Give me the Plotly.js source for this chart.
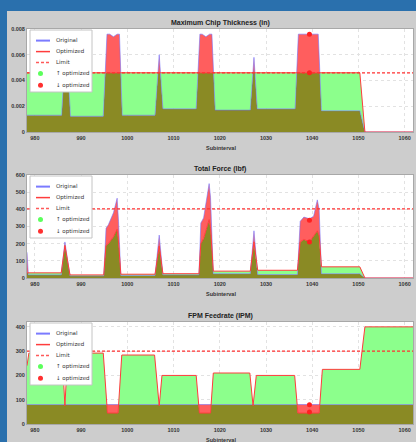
<!DOCTYPE html>
<html>
<head>
<meta charset="utf-8">
<script src="https://cdn.plot.ly/plotly-3.0.1.min.js"></script>
<style>html,body{margin:0;padding:0;background:#2a70ad;}#chart{width:416px;height:442px;}</style>
</head>
<body>
<div id="chart"></div>
<script>
// ---------- DATA ----------
const titles = ["Maximum Chip Thickness (in)", "Total Force (lbf)", "FPM Feedrate (IPM)"];
const xLabel = "Subinterval";
const legendLabels = ["Original", "Optimized", "Limit", "\u2191 optimized", "\u2193 optimized"];

// Plot 1: maximum chip thickness
const chipX = [978.3, 985.8, 986.3, 987.2, 987.7, 994.8, 995.6, 996.2, 997.0, 997.8, 998.3, 998.9, 1006.0, 1006.9, 1007.7, 1014.9, 1015.7, 1016.2, 1017.0, 1017.8, 1018.3, 1019.0, 1026.6, 1027.4, 1028.1, 1036.3, 1037.0, 1038.0, 1039.4, 1040.5, 1041.3, 1042.0, 1050.3, 1051.4, 1061.8];
const chipOrig = [0.0013, 0.0013, 0.0046, 0.0046, 0.00122, 0.00122, 0.0076, 0.0076, 0.0074, 0.0076, 0.0076, 0.0013, 0.0013, 0.0060, 0.0018, 0.0018, 0.0076, 0.0076, 0.0074, 0.0076, 0.0076, 0.0017, 0.0017, 0.0058, 0.0018, 0.0018, 0.0076, 0.0076, 0.0076, 0.0076, 0.0076, 0.00165, 0.00165, 0, 0];
const chipOpt = [0.0046, 0.0046, 0.0046, 0.0046, 0.0046, 0.0046, 0.0046, 0.0046, 0.0046, 0.0046, 0.0046, 0.0046, 0.0046, 0.0046, 0.0046, 0.0046, 0.0046, 0.0046, 0.0046, 0.0046, 0.0046, 0.0046, 0.0046, 0.0046, 0.0046, 0.0046, 0.0046, 0.0046, 0.0046, 0.0046, 0.0046, 0.0046, 0.0046, 0, 0];
const chipLimit = 0.0046;
const chipMarks = [0.0076, 0.0046];

// Plot 2: total force
const forceX = [978.3, 978.6, 985.7, 986.5, 987.6, 994.9, 995.4, 995.9, 997.0, 997.8, 998.1, 998.6, 1006.0, 1006.9, 1007.7, 1015.5, 1015.9, 1016.5, 1017.7, 1018.0, 1018.6, 1026.6, 1027.4, 1028.2, 1036.8, 1037.4, 1038.2, 1039.4, 1040.3, 1041.1, 1041.5, 1042.0, 1050.3, 1051.4, 1061.8];
const forceOrig = [150, 18, 18, 210, 12, 12, 290, 310, 380, 465, 330, 15, 15, 250, 18, 18, 320, 350, 550, 470, 25, 25, 275, 20, 20, 330, 355, 345, 360, 455, 400, 25, 25, 0, 0];
const forceOpt = [30, 30, 30, 190, 18, 18, 190, 200, 240, 285, 210, 22, 22, 185, 25, 25, 200, 230, 340, 290, 40, 40, 210, 45, 45, 210, 225, 210, 245, 275, 245, 65, 65, 0, 0];
const forceLimit = 403;
const forceMarks = [337, 210];

// Plot 3: feedrate
const feedX = [978.3, 978.7, 985.9, 986.5, 987.1, 994.8, 995.7, 998.0, 998.8, 1005.9, 1006.9, 1007.5, 1014.9, 1015.6, 1018.0, 1018.6, 1026.5, 1027.2, 1027.9, 1036.2, 1036.9, 1041.5, 1042.2, 1050.3, 1051.4, 1061.8];
const feedOrig = [80, 80, 80, 80, 80, 80, 80, 80, 80, 80, 80, 80, 80, 80, 80, 80, 80, 80, 80, 80, 80, 80, 80, 80, 80, 80];
const feedOpt = [240, 292, 292, 75, 292, 292, 45, 45, 284, 284, 75, 200, 200, 45, 45, 210, 210, 75, 200, 200, 45, 45, 225, 225, 400, 400];
const feedLimit = 300;
const feedMarks = [79, 49];

const markX = 1039.4;

// ---------- STYLE ----------
const W = 416, H = 442;
const px = v => v / W;
const py = v => 1 - v / H;
const OLIVE = '#8a8a24', REDF = '#ff5e5e', GREENF = '#8cff8c';
const BLUE = '#6a6aff', REDL = '#ff3c3c';
const FONT = 'Liberation Sans, Arial, sans-serif';
const LFONT = 'DejaVu Sans, Liberation Sans, sans-serif';
const xRange = [978.3, 1061.8];

const panels = [
  {x: chipX, a: chipOrig, b: chipOpt, lim: chipLimit, marks: chipMarks, top: 29, bot: 132, range: [0, 0.008], dtick: 0.002},
  {x: forceX, a: forceOrig, b: forceOpt, lim: forceLimit, marks: forceMarks, top: 175, bot: 278, range: [0, 600], dtick: 100},
  {x: feedX, a: feedOrig, b: feedOpt, lim: feedLimit, marks: feedMarks, top: 322, bot: 424, range: [0, 420], dtick: 100}
];

function withCross(x, a, b) {
  const X = [], A = [], B = [];
  for (let i = 0; i < x.length; i++) {
    X.push(x[i]); A.push(a[i]); B.push(b[i]);
    if (i < x.length - 1) {
      const d0 = a[i] - b[i], d1 = a[i + 1] - b[i + 1];
      if (d0 * d1 < 0) {
        const t = d0 / (d0 - d1);
        const xc = x[i] + t * (x[i + 1] - x[i]);
        const yc = a[i] + t * (a[i + 1] - a[i]);
        X.push(xc); A.push(yc); B.push(yc);
      }
    }
  }
  return {X, A, B};
}

const traces = [];
const layout = {
  width: W, height: H,
  margin: {l: 0, r: 0, t: 0, b: 0},
  paper_bgcolor: '#cdcdcd',
  plot_bgcolor: '#ffffff',
  showlegend: false,
  font: {family: FONT, color: '#333'},
  shapes: [], annotations: []
};

// blue frame around the grey panel
layout.shapes.push({type: 'rect', xref: 'paper', yref: 'paper', x0: 0, x1: 1, y0: py(11), y1: 1, fillcolor: '#2a70ad', line: {width: 0}, layer: 'below'});
layout.shapes.push({type: 'rect', xref: 'paper', yref: 'paper', x0: 0, x1: px(7), y0: 0, y1: 1, fillcolor: '#2a70ad', line: {width: 0}, layer: 'below'});

panels.forEach((p, i) => {
  const s = i === 0 ? '' : String(i + 1);
  const xa = 'x' + s, ya = 'y' + s;
  const {X, A, B} = withCross(p.x, p.a, p.b);
  const lo = A.map((v, k) => Math.min(v, B[k]));
  const base = {x: X, xaxis: xa, yaxis: ya, mode: 'lines', hoverinfo: 'skip'};
  traces.push(Object.assign({}, base, {y: lo, fill: 'tozeroy', fillcolor: OLIVE, line: {width: 0}}));
  traces.push(Object.assign({}, base, {y: lo, line: {width: 0}}));
  traces.push(Object.assign({}, base, {y: A, fill: 'tonexty', fillcolor: REDF, line: {width: 0}}));
  traces.push(Object.assign({}, base, {y: lo, line: {width: 0}}));
  traces.push(Object.assign({}, base, {y: B, fill: 'tonexty', fillcolor: GREENF, line: {width: 0}}));
  traces.push({x: p.x, y: p.a, xaxis: xa, yaxis: ya, mode: 'lines', opacity: 0.55, line: {color: BLUE, width: 1}, hoverinfo: 'skip'});
  traces.push({x: p.x, y: p.b, xaxis: xa, yaxis: ya, mode: 'lines', line: {color: REDL, width: 1}, hoverinfo: 'skip'});
  traces.push({x: [xRange[0], xRange[1]], y: [p.lim, p.lim], xaxis: xa, yaxis: ya, mode: 'lines', line: {color: '#ff3030', width: 1.3, dash: '3px,2px'}, hoverinfo: 'skip'});
  traces.push({x: p.marks.map(() => markX), y: p.marks, xaxis: xa, yaxis: ya, mode: 'markers', marker: {color: '#ff2020', size: 5}, hoverinfo: 'skip'});

  layout['xaxis' + s] = {
    domain: [px(27), px(413)], anchor: ya, range: xRange, dtick: 10, tick0: 980,
    showgrid: true, gridcolor: '#e2e2e2', griddash: 'dot', zeroline: false,
    showline: true, linecolor: '#a8a8a8', linewidth: 1, mirror: true,
    ticks: '', tickfont: {size: 5.5, family: FONT, color: '#333', weight: 'bold'}
  };
  layout['yaxis' + s] = {
    domain: [py(p.bot), py(p.top)], anchor: xa, range: p.range, dtick: p.dtick,
    showgrid: true, gridcolor: '#e2e2e2', griddash: 'dot', zeroline: false,
    showline: true, linecolor: '#a8a8a8', linewidth: 1, mirror: true,
    ticks: '', tickfont: {size: 5.5, family: FONT, color: '#333', weight: 'bold'}
  };

  layout.annotations.push({xref: 'paper', yref: 'paper', x: px(220), y: py(p.top - 6.5), text: titles[i], showarrow: false,
    xanchor: 'center', yanchor: 'middle', font: {size: 7, family: FONT, color: '#222', weight: 'bold'}});
  layout.annotations.push({xref: 'paper', yref: 'paper', x: px(221), y: py(p.bot + 16), text: xLabel, showarrow: false,
    xanchor: 'center', yanchor: 'middle', font: {size: 5.5, family: FONT, color: '#333', weight: 'bold'}});

  const T = p.top + 1, Bm = p.top + 63, L = 30, R = 92;
  layout.shapes.push({type: 'rect', xref: 'paper', yref: 'paper', x0: px(L), x1: px(R), y0: py(Bm), y1: py(T),
    fillcolor: '#ffffff', line: {color: '#c4c4c4', width: 1}});
  const rows = [11.6, 22.6, 33.4, 44.6, 56.2];
  rows.forEach((r, k) => {
    const yy = py(p.top + r);
    if (k === 0) layout.shapes.push({type: 'line', xref: 'paper', yref: 'paper', x0: px(36), x1: px(50), y0: yy, y1: yy, line: {color: '#7b7bff', width: 2}});
    if (k === 1) layout.shapes.push({type: 'line', xref: 'paper', yref: 'paper', x0: px(36), x1: px(50), y0: yy, y1: yy, line: {color: REDL, width: 1.5}});
    if (k === 2) layout.shapes.push({type: 'line', xref: 'paper', yref: 'paper', x0: px(36), x1: px(50), y0: yy, y1: yy, line: {color: '#ff5a5a', width: 1.5, dash: '3px,2px'}});
    if (k === 3) layout.shapes.push({type: 'circle', xref: 'paper', yref: 'paper', x0: px(38), x1: px(43), y0: py(p.top + r + 2.5), y1: py(p.top + r - 2.5), fillcolor: '#5cff5c', line: {width: 0}});
    if (k === 4) layout.shapes.push({type: 'circle', xref: 'paper', yref: 'paper', x0: px(38), x1: px(43), y0: py(p.top + r + 2.5), y1: py(p.top + r - 2.5), fillcolor: '#ff3030', line: {width: 0}});
    layout.annotations.push({xref: 'paper', yref: 'paper', x: px(54), y: yy, text: legendLabels[k], showarrow: false,
      xanchor: 'left', yanchor: 'middle', font: {size: 5.5, family: LFONT, color: '#333'}});
  });
});

Plotly.newPlot('chart', traces, layout, {staticPlot: true, displayModeBar: false});
</script>
</body>
</html>
